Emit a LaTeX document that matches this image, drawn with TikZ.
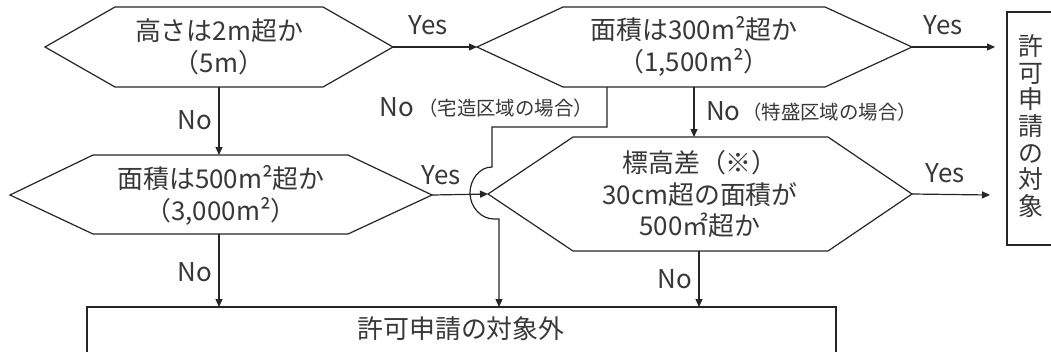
\documentclass[tikz,border=0pt]{standalone}
\usepackage{fontspec}
\setmainfont{Noto Sans CJK JP}
\usetikzlibrary{arrows.meta}
\begin{document}
\begin{tikzpicture}[x=1bp,y=-1bp,
  line/.style={line width=1.2bp, draw=black!85},
  arr/.style={line, -{Triangle[length=8bp,width=7bp]}},
  txt/.style={font=\fontsize{26}{32}\selectfont, text=black!78, align=center, inner sep=0pt},
  lab/.style={font=\fontsize{26}{30}\selectfont, text=black!78, inner sep=0pt},
  small/.style={font=\fontsize{19.5}{22}\selectfont, text=black!78, inner sep=0pt},
  vtxt/.style={font=\fontsize{25}{26.7}\selectfont, text=black!78, align=center, inner sep=0pt}]
\useasboundingbox (0,0) rectangle (1051,351);
\fill[white] (0,0) rectangle (1051,351);

% hexagon 1
\coordinate (h1w) at (45,47); \coordinate (h1e) at (393,47);
\coordinate (h1s) at (219,87);
\draw[line] (h1w) -- (115,7) -- (323,7) -- (h1e) -- (323,87) -- (115,87) -- cycle;
\node[txt] (h1) at (219,47) {高さは2m超か\\（5m）};

% hexagon 2
\coordinate (h2w) at (477,47); \coordinate (h2e) at (912,47);
\coordinate (h2s) at (694,87); \coordinate (h2s2) at (607,87);
\draw[line] (h2w) -- (563,7) -- (825,7) -- (h2e) -- (825,87) -- (563,87) -- cycle;
\node[txt] (h2) at (694,46) {面積は300m²超か\\（1,500m²）};

% hexagon 3
\coordinate (h3w) at (10,195); \coordinate (h3e) at (432,195);
\coordinate (h3n) at (219,155); \coordinate (h3s) at (219,234);
\draw[line] (h3w) -- (93,155) -- (348,155) -- (h3e) -- (348,234) -- (93,234) -- cycle;
\node[txt] (h3) at (221,195) {面積は500m²超か\\（3,000m²）};

% hexagon 4
\coordinate (h4w) at (488,194); \coordinate (h4e) at (912,194);
\coordinate (h4n) at (694,137); \coordinate (h4s) at (699,251);
\draw[line] (h4w) -- (573,137) -- (828,137) -- (h4e) -- (828,251) -- (573,251) -- cycle;
\node[txt] (h4) at (700,194) {標高差（※）\\30cm超の面積が\\500㎡超か};

% result boxes
\draw[line] (1007,12) rectangle (1060,245);
\node[vtxt] (yes) at (1031,126) {許\\可\\申\\請\\の\\対\\象};
\coordinate (yes1) at (995,47); \coordinate (yes2) at (990,195);

\draw[line] (87,307) rectangle (836,365);
\node[txt] (no) at (461,329) {許可申請の対象外};
\coordinate (no1) at (219,307); \coordinate (no2) at (499,307); \coordinate (no3) at (699,307);

% connectors
\draw[arr] (h1e) -- (h2w);
\node[lab] at (428,25) {Yes};
\draw[arr] (h2e) -- (yes1);
\node[lab] at (943,25) {Yes};
\draw[arr] (h1s) -- (h3n);
\node[lab] at (195,120) {No};
\draw[arr] (h2s) -- (h4n);
\node[lab, anchor=west] at (706,111) {No};
\node[small, anchor=west] at (742,112) {（特盛区域の場合）};
\draw[arr] (h3e) -- (h4w);
\node[lab] at (441,175) {Yes};
\draw[arr] (h4e) -- (yes2);
\node[lab] at (945,173) {Yes};
\draw[arr] (h3s) -- (no1);
\node[lab] at (195,272) {No};
\draw[arr] (h4s) -- (no3);
\node[lab] at (675,279) {No};
\draw[arr] (h2s2) -- (607,127) -- (492,127) -- (492,167)
  .. controls (479,167) and (470,180) .. (470,193)
  .. controls (470,207) and (481,219) .. (494,219) -- (499,219) -- (no2);
\node[lab, anchor=east] at (414,107) {No};
\node[small, anchor=west] at (418,108) {（宅造区域の場合）};
\end{tikzpicture}
\end{document}
